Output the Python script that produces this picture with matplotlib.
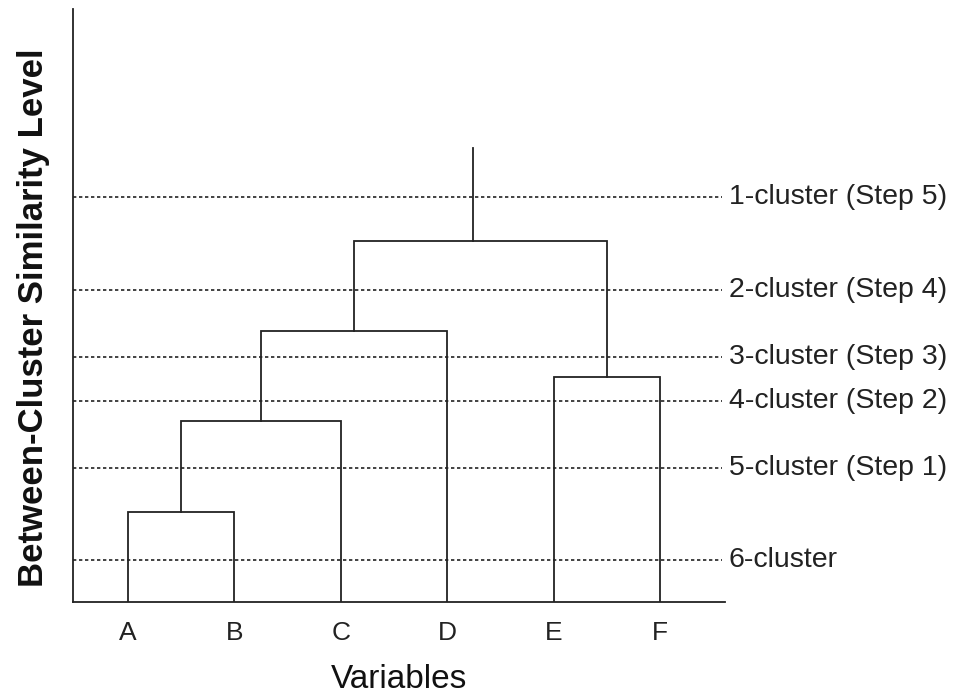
import matplotlib.pyplot as plt

# leaves of the dendrogram
leaves = ['A', 'B', 'C', 'D', 'E', 'F']

# merges: (left node, right node, similarity height); new nodes get ids 6, 7, ...
merge_left = [0, 6, 7, 4, 8]
merge_right = [1, 2, 3, 5, 9]
merge_height = [15.2, 30.5, 45.7, 37.9, 60.9]

# stem above the final merge
root_stem_x = 4.24
root_stem_top = 76.6

# dotted cut levels on the right
level_labels = ['1-cluster (Step 5)', '2-cluster (Step 4)', '3-cluster (Step 3)',
                '4-cluster (Step 2)', '5-cluster (Step 1)', '6-cluster']
level_heights = [68.3, 52.6, 41.3, 33.9, 22.6, 7.1]

plt.rcParams['font.family'] = ['Liberation Sans', 'DejaVu Sans']

fig = plt.figure(figsize=(9.58, 6.96), dpi=100)
ax = fig.add_axes([0.0762, 0.135, 0.6806, 0.852])

ink = '#222222'
xmin, xmax = 0.483, 6.61
ax.set_xlim(xmin, xmax)
ax.set_ylim(0, 100)

# dotted levels
for h, lab in zip(level_heights, level_labels):
    ax.plot([xmin, 6.58], [h, h], color=ink, lw=1.2, linestyle=(0, (2, 1.6)),
            zorder=1, clip_on=False)
    ax.text(6.645, h, lab, fontsize=20.5, color=ink, va='center', ha='left',
            clip_on=False)

# dendrogram links
node_x = [i + 1 for i in range(len(leaves))]
node_h = [0.0] * len(leaves)
for l, r, h in zip(merge_left, merge_right, merge_height):
    xl, xr = node_x[l], node_x[r]
    ax.plot([xl, xl, xr, xr], [node_h[l], h, h, node_h[r]], color=ink,
            lw=1.3, zorder=2, solid_joinstyle='miter')
    node_x.append((xl + xr) / 2)
    node_h.append(h)

ax.plot([root_stem_x, root_stem_x], [node_h[-1], root_stem_top], color=ink,
        lw=1.3, zorder=2)

# axes styling
for side in ['top', 'right']:
    ax.spines[side].set_visible(False)
ax.spines['left'].set_linewidth(1.3)
ax.spines['bottom'].set_linewidth(1.3)
ax.spines['left'].set_color(ink)
ax.spines['bottom'].set_color(ink)

ax.set_xticks(range(1, len(leaves) + 1))
ax.set_xticklabels(leaves, fontsize=19, color=ink)
ax.tick_params(axis='x', length=0, pad=14)
ax.set_yticks([])

ax.set_xlabel('Variables', fontsize=24, color='#111111')
ax.xaxis.set_label_coords(0.5, -0.104)
ax.set_ylabel('Between-Cluster Similarity Level', fontsize=25, fontweight='bold',
              color='#111111')
ax.yaxis.set_label_coords(-0.035, 0.479)

plt.savefig('out.png', dpi=100)
